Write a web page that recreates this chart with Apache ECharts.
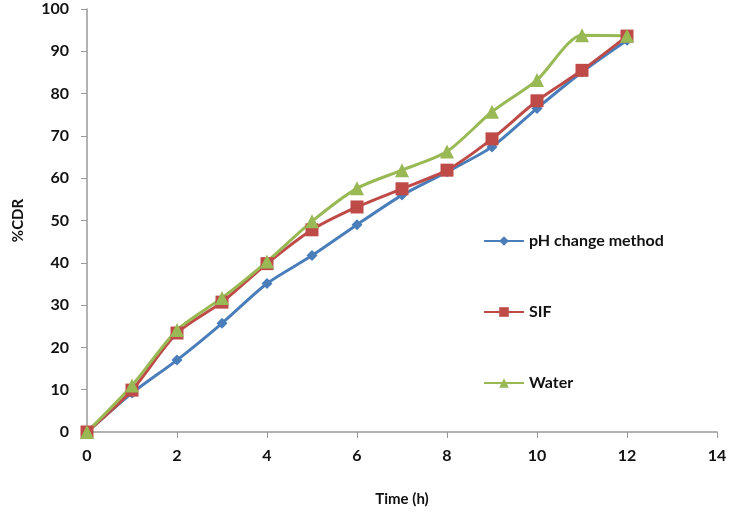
<!DOCTYPE html>
<html><head><meta charset="utf-8">
<script src="https://cdn.jsdelivr.net/npm/echarts@6/dist/echarts.min.js"></script>
<style>html,body{margin:0;padding:0;background:#fff}#c{width:737px;height:519px}</style>
</head><body><div id="c"></div>
<script>
var times = [0,1,2,3,4,5,6,7,8,9,10,11,12];
var phChange = [0,9.2,17,25.7,35.1,41.7,49,56,61.5,67.4,76.5,85.1,92.6];
var sif = [0,9.9,23.4,30.7,39.8,47.8,53.2,57.5,61.9,69.3,78.3,85.5,93.6];
var water = [0,11,24.1,31.7,40.3,49.8,57.6,61.9,66.3,75.7,83.2,93.8,93.7];
var seriesNames = ['pH change method','SIF','Water'];
var xTicks = [0,2,4,6,8,10,12,14];
var yTicks = [0,10,20,30,40,50,60,70,80,90,100];

function pairs(v){ return times.map(function(t,i){ return [t, v[i]]; }); }
var font = 'Lato, "Open Sans", sans-serif';
var chart = echarts.init(document.getElementById('c'));
chart.setOption({
  animation:false,
  backgroundColor:'#fff',
  grid:{left:87,right:20,top:9,bottom:87,containLabel:false},
  xAxis:{type:'value',min:xTicks[0],max:xTicks[xTicks.length-1],interval:2,
    name:'Time (h)',nameLocation:'middle',nameGap:60,
    nameTextStyle:{fontFamily:font,fontWeight:'bold',fontSize:15,color:'#111'},
    axisLine:{lineStyle:{color:'#999',width:1.5}},
    axisTick:{show:true,length:6,lineStyle:{color:'#999'}},
    axisLabel:{fontFamily:font,fontWeight:'bold',fontSize:16,color:'#111',margin:16},
    splitLine:{show:false}},
  yAxis:{type:'value',min:yTicks[0],max:yTicks[yTicks.length-1],interval:10,
    name:'%CDR',nameLocation:'middle',nameGap:61,nameRotate:90,
    nameTextStyle:{fontFamily:font,fontWeight:'bold',fontSize:15,color:'#111'},
    axisLine:{show:true,lineStyle:{color:'#999',width:1.5}},
    axisTick:{show:true,length:6,lineStyle:{color:'#999'}},
    axisLabel:{fontFamily:font,fontWeight:'bold',fontSize:16,color:'#111',margin:18},
    splitLine:{show:false}},
  legend:{orient:'vertical',left:478,top:228,itemGap:55,itemWidth:40,itemHeight:12,itemTextGap:4,
    textStyle:{fontFamily:font,fontWeight:'bold',fontSize:16,color:'#111'},
    data:seriesNames},
  series:[
    {name:seriesNames[0],type:'line',data:pairs(phChange),smooth:0.25,symbol:'diamond',symbolSize:11,
     itemStyle:{color:'#4a7ebb'},lineStyle:{color:'#4a7ebb',width:3}},
    {name:seriesNames[1],type:'line',data:pairs(sif),smooth:0.25,symbol:'rect',symbolSize:13,
     itemStyle:{color:'#be4b48'},lineStyle:{color:'#be4b48',width:3}},
    {name:seriesNames[2],type:'line',data:pairs(water),smooth:0.25,symbol:'triangle',symbolSize:14,
     itemStyle:{color:'#98b954'},lineStyle:{color:'#98b954',width:3}}
  ]
});
</script></body></html>
